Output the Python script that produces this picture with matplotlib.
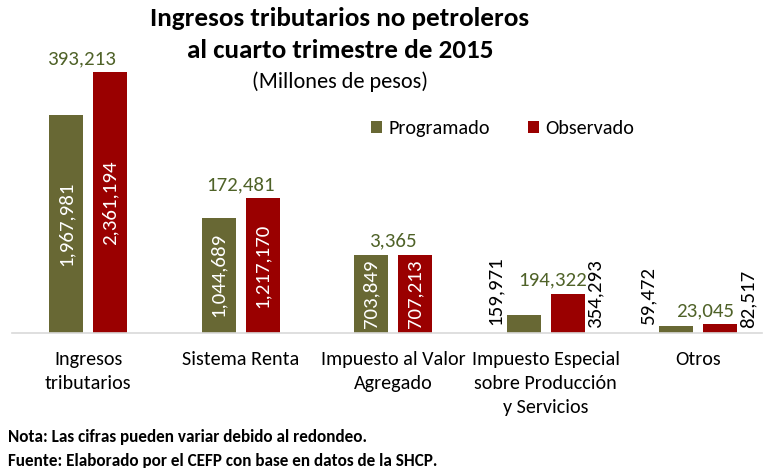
import matplotlib
matplotlib.use("Agg")
import matplotlib.pyplot as plt
import numpy as np

plt.rcParams['font.family'] = ['Carlito', 'DejaVu Sans']

categories = ["Ingresos\ntributarios", "Sistema Renta", "Impuesto al Valor\nAgregado",
              "Impuesto Especial\nsobre Producción\ny Servicios", "Otros"]
programado = [1967981, 1044689, 703849, 159971, 59472]
observado = [2361194, 1217170, 707213, 354293, 82517]
diferencia = [393213, 172481, 3365, 194322, 23045]

C_PROG = "#686834"
C_OBS = "#9A0000"
C_DIFF = "#4F6228"

W, H = 769, 468
fig = plt.figure(figsize=(W / 100, H / 100), dpi=100)
left, right, bottom, top = 12, 762, 333, 20
ax = fig.add_axes([left / W, 1 - bottom / H, (right - left) / W, (bottom - top) / H])

pxu = 152.5
xmin = -76 / pxu
ax.set_xlim(xmin, xmin + (right - left) / pxu)
scale = 261 / 2361194
ax.set_ylim(0, (bottom - top) / scale)

x = np.arange(len(categories))
bw = 34 / pxu
off = 22 / pxu
ax.bar(x - off, programado, bw, color=C_PROG, label="Programado")
ax.bar(x + off, observado, bw, color=C_OBS, label="Observado")

def fmt(v):
    return f"{v:,}"

for i in range(len(categories)):
    p, o = programado[i], observado[i]
    if i < 3:
        ax.text(x[i] - off, p / 2, fmt(p), rotation=90, ha='center', va='center',
                color='white', fontsize=15)
        ax.text(x[i] + off, o / 2, fmt(o), rotation=90, ha='center', va='center',
                color='white', fontsize=15)
    else:
        ax.text(x[i] - off - bw / 2 - 3 / pxu, 8 / scale, fmt(p), rotation=90,
                ha='right', va='bottom', color='black', fontsize=15)
        ax.text(x[i] + off + bw / 2 + 2 / pxu, 5 / scale, fmt(o), rotation=90,
                ha='left', va='bottom', color='black', fontsize=15)
    dx = -7 / pxu if i == 0 else (7 / pxu if i >= 3 else 0)
    ax.text(x[i] + dx, max(p, o) + 5 / scale, fmt(diferencia[i]), ha='center',
            va='bottom', color=C_DIFF, fontsize=15)

for s in ['top', 'right', 'left']:
    ax.spines[s].set_visible(False)
ax.spines['bottom'].set_color('#D9D9D9')
ax.spines['bottom'].set_linewidth(1.2)
ax.set_yticks([])
ax.set_xticks(x)
ax.set_xticklabels(categories, fontsize=14.5, linespacing=1.5)
ax.tick_params(axis='x', length=0, pad=13)

leg = ax.legend(loc='upper left', bbox_to_anchor=((363 - left) / (right - left), 1 - (112 - top) / (bottom - top)),
                ncol=2, frameon=False, fontsize=14.5, handlelength=0.55, handleheight=0.6,
                columnspacing=1.9, handletextpad=0.3, borderaxespad=0)

fig.text(340 / W, 1 - 19 / H, "Ingresos tributarios no petroleros", ha='center', va='center',
         fontsize=19.5, fontweight='bold')
fig.text(340 / W, 1 - 50 / H, "al cuarto trimestre de 2015", ha='center', va='center',
         fontsize=19.5, fontweight='bold')
fig.text(340 / W, 1 - 82 / H, "(Millones de pesos)", ha='center', va='center', fontsize=16)

fig.text(8 / W, 1 - 437 / H, "Nota: Las cifras pueden variar debido al redondeo.", ha='left',
         va='center', fontsize=12.3, fontweight='bold')
fig.text(8 / W, 1 - 461 / H, "Fuente: Elaborado por el CEFP con base en datos de la SHCP.", ha='left',
         va='center', fontsize=12.3, fontweight='bold')

fig.savefig("out.png", dpi=100)
